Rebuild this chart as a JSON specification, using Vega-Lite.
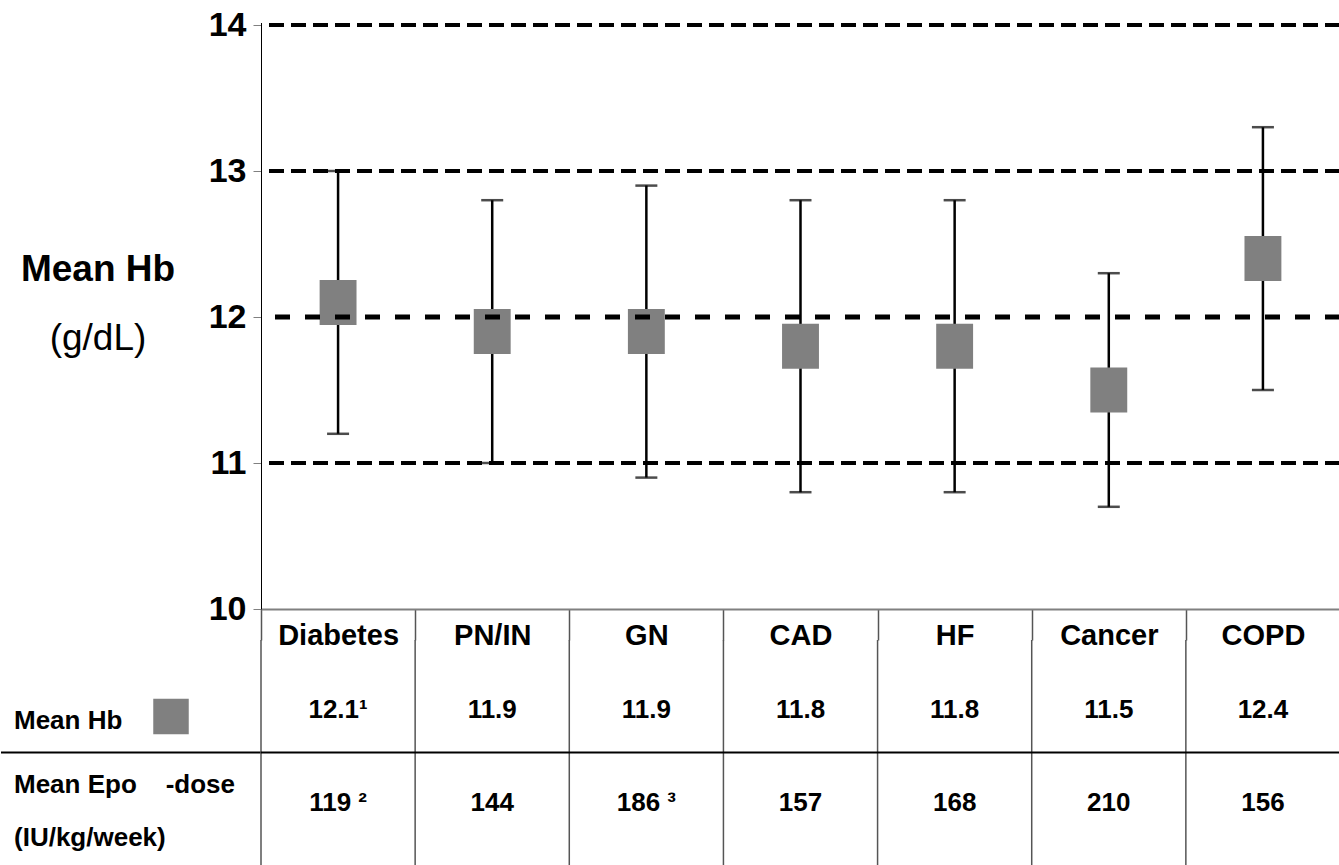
{
  "$schema": "https://vega.github.io/schema/vega-lite/v6.json",
  "padding": {"left": 0, "top": 8, "right": 0, "bottom": 0},
  "config": {"font": "Liberation Sans", "view": {"stroke": null}},
  "datasets": {
    "groups": [
      {"cat": "Diabetes", "mean": 12.1, "low": 11.2, "high": 13.0, "hb": "12.1¹", "epo": "119 ²"},
      {"cat": "PN/IN", "mean": 11.9, "low": 11.0, "high": 12.8, "hb": "11.9", "epo": "144"},
      {"cat": "GN", "mean": 11.9, "low": 10.9, "high": 12.9, "hb": "11.9", "epo": "186 ³"},
      {"cat": "CAD", "mean": 11.8, "low": 10.8, "high": 12.8, "hb": "11.8", "epo": "157"},
      {"cat": "HF", "mean": 11.8, "low": 10.8, "high": 12.8, "hb": "11.8", "epo": "168"},
      {"cat": "Cancer", "mean": 11.5, "low": 10.7, "high": 12.3, "hb": "11.5", "epo": "210"},
      {"cat": "COPD", "mean": 12.4, "low": 11.5, "high": 13.3, "hb": "12.4", "epo": "156"}
    ]
  },
  "columns": 2,
  "spacing": {"row": 31, "column": 0},
  "bounds": "flush",
  "resolve": {"scale": {"x": "independent", "y": "independent"}},
  "concat": [
    {
      "width": 194,
      "height": 584,
      "data": {"values": [{"line": "Mean Hb"}, {"line": "(g/dL)"}]},
      "layer": [
        {
          "transform": [{"filter": "datum.line === 'Mean Hb'"}],
          "mark": {"type": "text", "fontSize": 37, "fontWeight": "bold", "align": "center", "baseline": "middle", "color": "black"},
          "encoding": {
            "y": {"field": "line", "type": "nominal", "scale": {"type": "point", "domain": ["Mean Hb", "(g/dL)"], "range": [245, 314], "padding": 0}, "axis": null},
            "text": {"field": "line"}
          }
        },
        {
          "transform": [{"filter": "datum.line === '(g/dL)'"}],
          "mark": {"type": "text", "fontSize": 37, "fontWeight": "normal", "align": "center", "baseline": "middle", "color": "black"},
          "encoding": {
            "y": {"field": "line", "type": "nominal"},
            "text": {"field": "line"}
          }
        }
      ]
    },
    {
      "width": 1079,
      "height": 584,
      "data": {"name": "groups"},
      "layer": [
        {
          "mark": {"type": "rule", "color": "black", "strokeWidth": 2.5},
          "encoding": {
            "x": {
              "field": "cat", "type": "nominal", "sort": null, "title": null,
              "scale": {"type": "band", "padding": 0},
              "axis": {
                "orient": "bottom", "labelAngle": 0, "labelFontSize": 29, "labelFontWeight": "bold", "labelColor": "black",
                "labelBaseline": "middle", "labelPadding": -5, "labelLimit": 300,
                "tickBand": "extent", "tickSize": 31, "tickColor": "#555555", "tickWidth": 1.5,
                "domainColor": "#808080", "domainWidth": 2, "grid": false
              }
            },
            "y": {
              "field": "low", "type": "quantitative", "title": null,
              "scale": {"domain": [10, 14], "nice": false, "zero": false},
              "axis": {
                "values": [10, 11, 12, 13, 14], "format": "d", "labelFontSize": 34, "labelFontWeight": "bold", "labelColor": "black",
                "labelPadding": 7, "tickSize": 8, "tickColor": "#808080", "tickWidth": 1,
                "domainColor": "black", "domainWidth": 1, "grid": false
              }
            },
            "y2": {"field": "high", "title": null}
          }
        },
        {
          "mark": {"type": "tick", "color": "black", "thickness": 2.5, "size": 22, "orient": "horizontal"},
          "encoding": {
            "x": {"field": "cat", "type": "nominal", "sort": null, "title": null},
            "y": {"field": "low", "type": "quantitative", "title": null}
          }
        },
        {
          "mark": {"type": "tick", "color": "black", "thickness": 2.5, "size": 22, "orient": "horizontal"},
          "encoding": {
            "x": {"field": "cat", "type": "nominal", "sort": null, "title": null},
            "y": {"field": "high", "type": "quantitative", "title": null}
          }
        },
        {
          "mark": {"type": "point", "shape": "M-0.82,-1L0.82,-1L0.82,1L-0.82,1Z", "size": 2025, "filled": true, "opacity": 1, "color": "#808080", "strokeWidth": 0},
          "encoding": {
            "x": {"field": "cat", "type": "nominal", "sort": null, "title": null},
            "y": {"field": "mean", "type": "quantitative", "title": null}
          }
        },
        {
          "data": {"values": [{"level": 11}, {"level": 13}, {"level": 14}]},
          "mark": {"type": "rule", "color": "black", "strokeWidth": 4, "strokeDash": [15, 7]},
          "encoding": {"y": {"field": "level", "type": "quantitative", "title": null}}
        },
        {
          "data": {"values": [{"level": 12}]},
          "mark": {"type": "rule", "color": "black", "strokeWidth": 5, "strokeDash": [15, 15]},
          "encoding": {"y": {"field": "level", "type": "quantitative", "title": null}}
        }
      ]
    },
    {
      "width": 260,
      "height": 225,
      "layer": [
        {
          "data": {"values": [{"row": "Mean Epo"}]},
          "mark": {"type": "rule", "color": "black", "strokeWidth": 2},
          "encoding": {
            "y": {"field": "row", "type": "nominal", "bandPosition": 0, "scale": {"type": "band", "domain": ["Mean Hb", "Mean Epo"], "padding": 0}, "axis": null}
          }
        },
        {
          "data": {"values": [{"slot": "label", "row": "Mean Hb", "t": "Mean Hb"}]},
          "mark": {"type": "text", "fontSize": 26, "fontWeight": "bold", "align": "left", "baseline": "middle", "color": "black"},
          "encoding": {
            "x": {"field": "slot", "type": "nominal", "scale": {"type": "point", "domain": ["label", "marker"], "range": [13, 170], "padding": 0}, "axis": null},
            "y": {"field": "row", "type": "nominal", "bandPosition": 0.72},
            "text": {"field": "t"}
          }
        },
        {
          "data": {"values": [{"slot": "label", "row": "Mean Epo", "t": "Mean Epo\u00a0\u00a0\u00a0\u00a0-dose\n(IU/kg/week)"}]},
          "mark": {"type": "text", "fontSize": 26, "fontWeight": "bold", "align": "left", "baseline": "middle", "color": "black", "lineBreak": "\n", "lineHeight": 53},
          "encoding": {
            "x": {"field": "slot", "type": "nominal"},
            "y": {"field": "row", "type": "nominal", "bandPosition": 0.29},
            "text": {"field": "t"}
          }
        },
        {
          "data": {"values": [{"slot": "marker", "row": "Mean Hb"}]},
          "mark": {"type": "point", "shape": "square", "size": 1260, "filled": true, "opacity": 1, "color": "#808080", "strokeWidth": 0},
          "encoding": {
            "x": {"field": "slot", "type": "nominal"},
            "y": {"field": "row", "type": "nominal", "bandPosition": 0.68}
          }
        }
      ]
    },
    {
      "width": 1079,
      "height": 225,
      "layer": [
        {
          "data": {"name": "groups"},
          "mark": {"type": "rule", "color": "#555555", "strokeWidth": 1.5},
          "encoding": {
            "x": {"field": "cat", "type": "nominal", "sort": null, "bandPosition": 0, "scale": {"type": "band", "padding": 0}, "axis": null}
          }
        },
        {
          "data": {"values": [{"row": "Mean Epo"}]},
          "mark": {"type": "rule", "color": "black", "strokeWidth": 2},
          "encoding": {
            "y": {"field": "row", "type": "nominal", "bandPosition": 0, "scale": {"type": "band", "domain": ["Mean Hb", "Mean Epo"], "padding": 0}, "axis": null}
          }
        },
        {
          "data": {"name": "groups"},
          "transform": [{"calculate": "'Mean Hb'", "as": "row"}],
          "mark": {"type": "text", "fontSize": 26, "fontWeight": "bold", "align": "center", "baseline": "middle", "color": "black"},
          "encoding": {
            "x": {"field": "cat", "type": "nominal", "sort": null},
            "y": {"field": "row", "type": "nominal", "bandPosition": 0.62},
            "text": {"field": "hb"}
          }
        },
        {
          "data": {"name": "groups"},
          "transform": [{"calculate": "'Mean Epo'", "as": "row"}],
          "mark": {"type": "text", "fontSize": 26, "fontWeight": "bold", "align": "center", "baseline": "middle", "color": "black"},
          "encoding": {
            "x": {"field": "cat", "type": "nominal", "sort": null},
            "y": {"field": "row", "type": "nominal", "bandPosition": 0.45},
            "text": {"field": "epo"}
          }
        }
      ]
    }
  ]
}
